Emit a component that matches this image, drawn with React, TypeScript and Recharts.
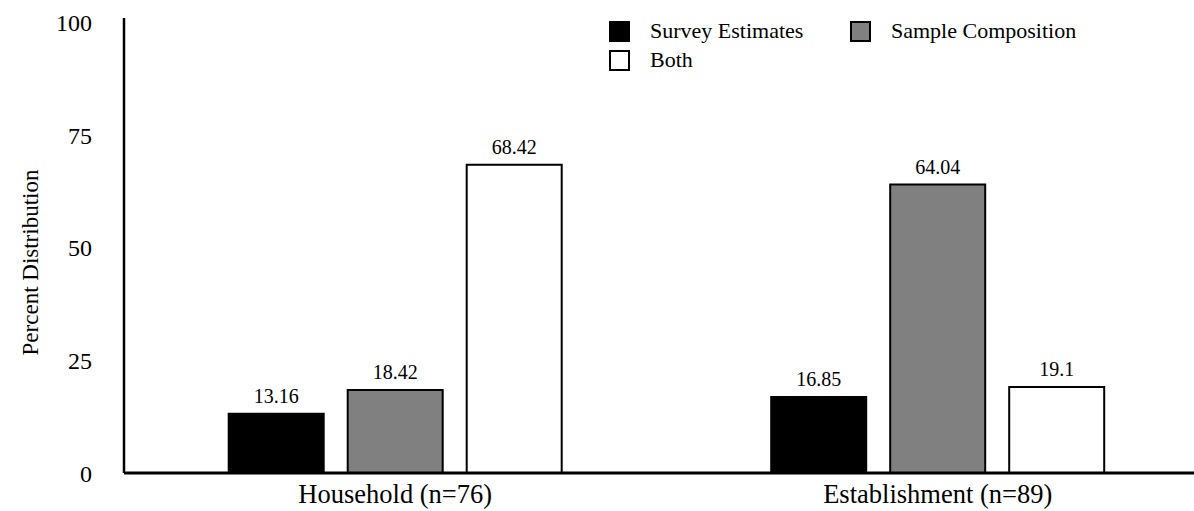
import React from "react";
import { Bar, BarChart, LabelList, Legend, XAxis, YAxis } from "recharts";

const categories = ["Household (n=76)", "Establishment (n=89)"];
const surveyEstimates = [13.16, 16.85];
const sampleComposition = [18.42, 64.04];
const both = [68.42, 19.1];
const yTicks = [0, 25, 50, 75, 100];
const seriesNames = ["Survey Estimates", "Sample Composition", "Both"];

const FONT = "'Liberation Serif', 'Times New Roman', serif";

const data = categories.map((name, i) => ({
  name,
  survey: surveyEstimates[i],
  sample: sampleComposition[i],
  both: both[i],
}));

function LegendBox({ payload }: any) {
  const items = [...(payload ?? [])].sort(
    (a: any, b: any) => seriesNames.indexOf(a.value) - seriesNames.indexOf(b.value)
  );
  return (
    <div
      style={{
        display: "grid",
        gridTemplateColumns: "241px 260px",
        rowGap: 7,
        fontFamily: FONT,
        fontSize: 22,
        color: "#000",
      }}
    >
      {items.map((it: any) => (
        <div key={it.value} style={{ display: "flex", alignItems: "center", height: 22 }}>
          <span
            style={{
              width: 17,
              height: 17,
              background: it.color,
              border: "2px solid #000",
              marginRight: 20,
              flexShrink: 0,
            }}
          />
          <span>{it.value}</span>
        </div>
      ))}
    </div>
  );
}

function YLabel({ viewBox }: any) {
  const x = 30;
  const y = viewBox.y + viewBox.height / 2 + 17;
  return (
    <text
      x={x}
      y={y}
      transform={`rotate(-90, ${x}, ${y})`}
      textAnchor="middle"
      dominantBaseline="central"
      fontFamily={FONT}
      fontSize={23}
      fill="#000"
    >
      Percent Distribution
    </text>
  );
}

export default function App() {
  const labelStyle = { fontFamily: FONT, fontSize: 20, fill: "#000" };
  return (
    <div
      style={{
        position: "absolute",
        left: 0,
        top: 0,
        width: 1194,
        height: 511,
        overflow: "hidden",
        background: "#fff",
        fontFamily: FONT,
      }}
    >
      <BarChart
        width={1209}
        height={511}
        data={data}
        margin={{ top: 18, right: 0, left: 0, bottom: 0 }}
        barCategoryGap="19.3%"
        barGap={24}
      >
        <XAxis
          dataKey="name"
          height={38}
          axisLine={{ stroke: "#000", strokeWidth: 3 }}
          tickLine={false}
          tickSize={0}
          tickMargin={11}
          tick={{ fontFamily: FONT, fontSize: 26.5, fill: "#000" }}
        />
        <YAxis
          width={124}
          domain={[0, 101]}
          ticks={yTicks}
          interval={0}
          axisLine={{ stroke: "#000", strokeWidth: 2.5 }}
          tickLine={false}
          tickSize={0}
          tickMargin={32}
          tick={{ fontFamily: FONT, fontSize: 24, fill: "#000" }}
          label={<YLabel />}
        />
        <Legend
          layout="horizontal"
          verticalAlign="middle"
          align="center"
          wrapperStyle={{ top: 20, left: 609, width: 520 }}
          content={<LegendBox />}
        />
        <Bar dataKey="survey" name="Survey Estimates" fill="#000000" stroke="#000" strokeWidth={2} isAnimationActive={false}>
          <LabelList dataKey="survey" position="top" offset={11} style={labelStyle} />
        </Bar>
        <Bar dataKey="sample" name="Sample Composition" fill="#808080" stroke="#000" strokeWidth={2} isAnimationActive={false}>
          <LabelList dataKey="sample" position="top" offset={11} style={labelStyle} />
        </Bar>
        <Bar dataKey="both" name="Both" fill="#ffffff" stroke="#000" strokeWidth={2} isAnimationActive={false}>
          <LabelList dataKey="both" position="top" offset={11} style={labelStyle} />
        </Bar>
      </BarChart>
    </div>
  );
}
